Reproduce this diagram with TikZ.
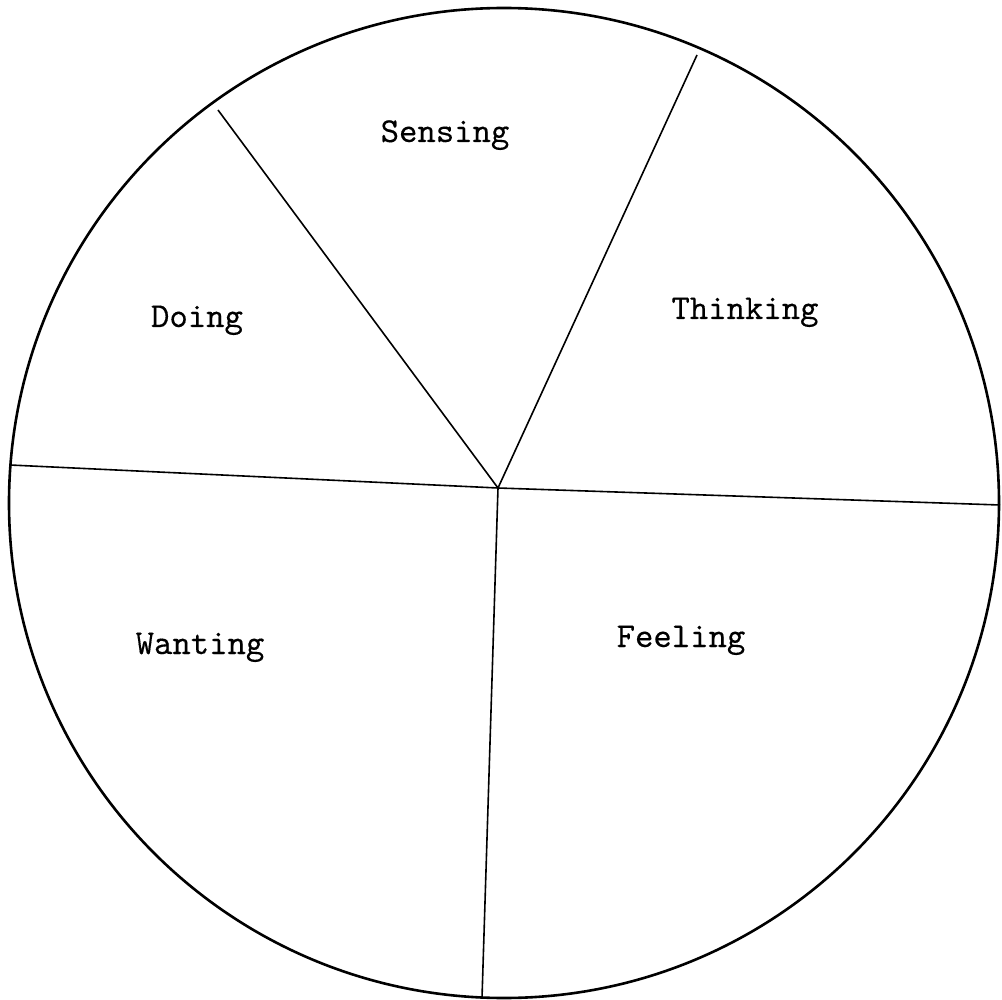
\documentclass[tikz,border=0pt]{standalone}
\usepackage{fontspec}
\newfontfamily\lbltt[FakeBold=0.3]{lmmono10-regular.otf}
\begin{document}
\begin{tikzpicture}[x=1pt,y=-1pt,
  rim/.style={line width=2.6pt},
  spoke/.style={line width=1.6pt},
  lbl/.style={font=\lbltt\fontsize{35}{40}\selectfont, anchor=base, inner sep=0pt}]
\useasboundingbox (0,0) rectangle (1002,1000);
\node[circle, draw, rim, minimum size=990pt, inner sep=0pt] (rimc) at (504,503) {};
\coordinate (c) at (498,488);
\coordinate (p1) at (218,110);
\coordinate (p2) at (697,55);
\coordinate (p3) at (1000,505);
\coordinate (p4) at (482,998);
\coordinate (p5) at (10,465);
\draw[spoke, line join=round] (p1) -- (c) -- (p2);
\draw[spoke] (p5) -- (c) -- (p3);
\draw[spoke] (c) -- (p4);
\node[lbl] (sensing) at (445,142) {Sensing};
\node[lbl] (doing) at (197,327) {Doing};
\node[lbl] (thinking) at (745,319) {Thinking};
\node[lbl] (wanting) at (200,654) {Wanting};
\node[lbl] (feeling) at (681,647) {Feeling};
\end{tikzpicture}
\end{document}
